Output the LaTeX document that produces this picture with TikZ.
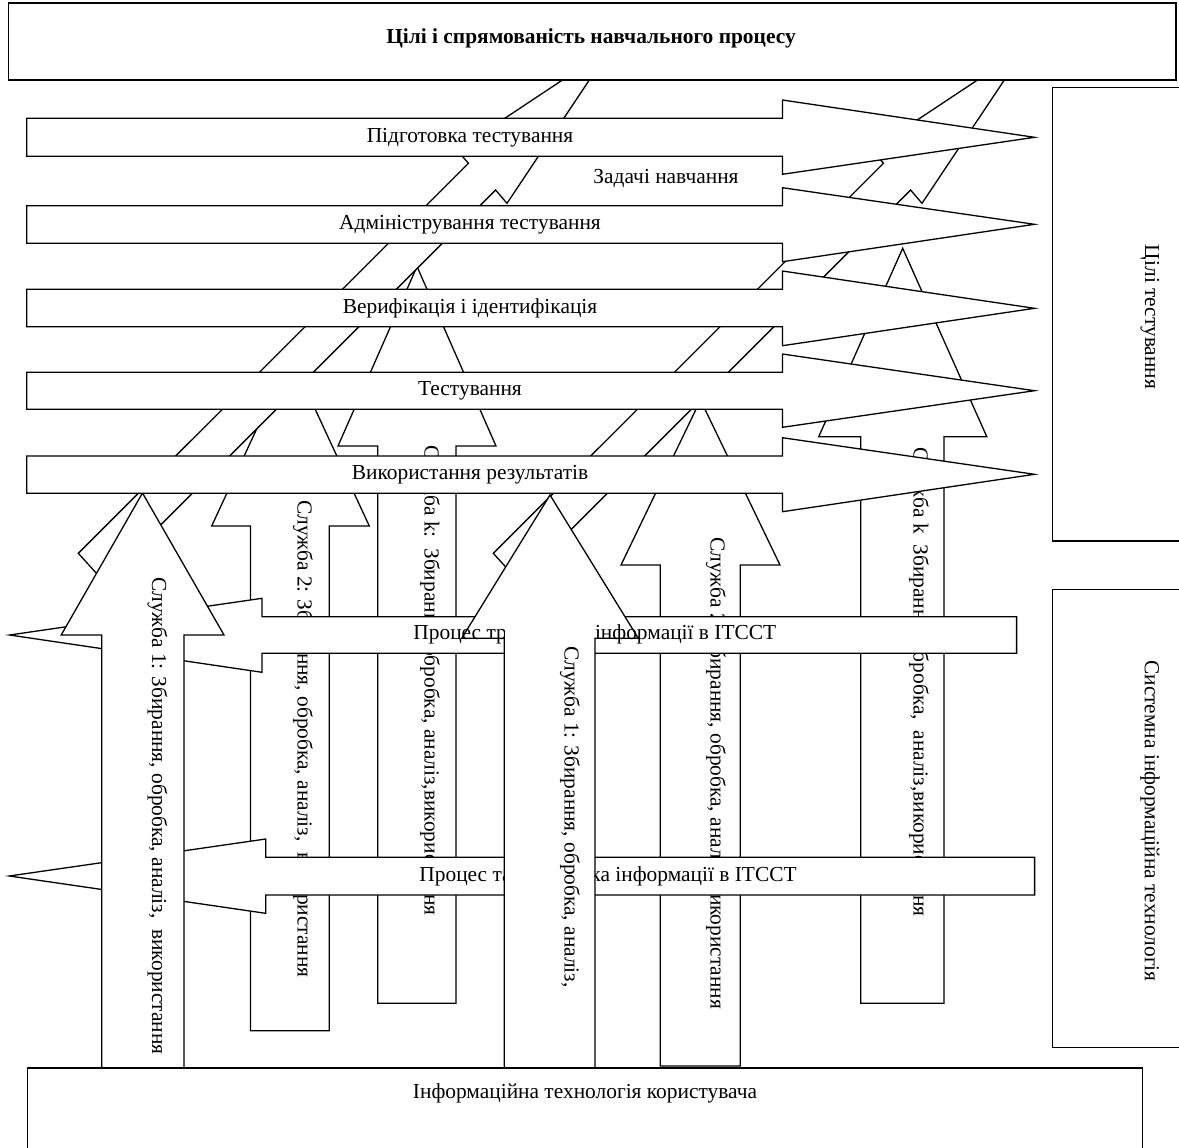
\documentclass[tikz,border=0pt]{standalone}
\usepackage{fontspec}
\setmainfont{Liberation Serif}
\newcommand{\dtxt}{\fontsize{10.7pt}{12pt}\selectfont}
\begin{document}
\begin{tikzpicture}[x=0.5pt,y=-0.5pt,
  shp/.style={draw=black,fill=white,line width=0.65pt,line join=miter,miter limit=20},
  txt/.style={font=\dtxt,inner sep=0pt},
  vtxt/.style={txt,rotate=-90,anchor=west}]
\useasboundingbox (0,0) rectangle (1179,1147);
\begin{scope}
\clip (0,0) rectangle (1179,1147);
% --- services behind (V2..V5)
\draw[shp] (250.5,1030.7) -- (250.5,526) -- (211.7,526) -- (290.5,356) -- (369.3,526) -- (329.3,526) -- (329.3,1030.7) -- cycle;
\node[vtxt] (s2a) at (303,500) {Служба 2: Збирання, обробка, аналіз,\ \ використання};
\draw[shp] (377.7,1003.3) -- (377.7,446) -- (338,446) -- (417,266.5) -- (496,446) -- (456,446) -- (456,1003.3) -- cycle;
\node[vtxt] (ska) at (430,445) {Служба k:\ \ Збирання, обробка, аналіз,використання};
\draw[shp] (660.3,1066) -- (660.3,565) -- (621,565) -- (700.5,400) -- (780,565) -- (740.2,565) -- (740.2,1066) -- cycle;
\node[vtxt] (s2b) at (716,537) {Служба 2: Збирання, обробка, аналіз, використання};
\draw[shp] (860.8,1003.3) -- (860.8,436.7) -- (818.7,436.7) -- (902.7,248.3) -- (986.8,436.7) -- (944,436.7) -- (944,1003.3) -- cycle;
\node[vtxt] (skb) at (919,447) {Служба k\ \ Збирання, обробка,\ \ аналіз,використання};
% --- lightning bolts
\draw[shp] (78.3,553.3) -- (468.5,163.3) -- (456.9,150.1) -- (610.7,48) -- (507,203.3) -- (495.6,190) -- (104,581.6) -- cycle;
\draw[shp] (493.3,553.3) -- (883.5,163.3) -- (871.9,150.1) -- (1025.7,48) -- (922,203.3) -- (910.6,190) -- (519,581.6) -- cycle;
% --- top box
\draw[shp] (8.4,3) rectangle (1176,80);
\node[txt,font=\dtxt\bfseries] (top) at (591,38) {Цілі і спрямованість навчального процесу};
% --- process arrows (left)
\draw[shp] (1016.6,616.7) -- (262,616.7) -- (262,598.3) -- (9.6,635) -- (262,672.3) -- (262,653.3) -- (1016.6,653.3) -- cycle;
\draw[shp] (1034.6,857.3) -- (265.7,857.3) -- (265.7,839) -- (9.3,876) -- (265.7,913.3) -- (265.7,895) -- (1034.6,895) -- cycle;
% --- service 1 (left)
\draw[shp] (101.7,1068) -- (101.7,635) -- (61.2,635) -- (142.5,493) -- (224,635) -- (184,635) -- (184,1068) -- cycle;
\node[vtxt] (s1a) at (157.5,577) {Служба 1: Збирання, обробка, аналіз,\ \ використання};
% --- service 1 (middle)
\draw[shp] (504.3,1068) -- (504.3,638.3) -- (461.7,638.3) -- (550,495) -- (638.3,638.3) -- (595,638.3) -- (595,1068) -- cycle;
\node[txt,anchor=west] (p1) at (413,634) {Процес транспорту інформації в ІТССТ};
\node[txt,anchor=west] (p2) at (419,876) {Процес та переробка інформації в ІТССТ};
\fill[white] (505.4,624) rectangle (593.9,1066.5);
\node[vtxt] (s1b) at (570,646) {Служба 1: Збирання, обробка, аналіз,};
% --- stage arrows (right)
\draw[shp] (26.8,118.3) -- (782.4,118.3) -- (782.4,100) -- (1034.5,137.3) -- (782.4,174.3) -- (782.4,156.2) -- (26.8,156.2) -- cycle;
\node[txt] (a1) at (470,137.3) {Підготовка тестування};
\draw[shp] (26.8,205.7) -- (782.4,205.7) -- (782.4,187.7) -- (1034.5,224.3) -- (782.4,261.7) -- (782.4,243.3) -- (26.8,243.3) -- cycle;
\node[txt] (a2) at (470,224.5) {Адміністрування тестування};
\draw[shp] (26.8,289.3) -- (782.4,289.3) -- (782.4,271) -- (1034.5,308.3) -- (782.4,345.7) -- (782.4,326.7) -- (26.8,326.7) -- cycle;
\node[txt] (a3) at (470,308) {Верифікація і ідентифікація};
\draw[shp] (26.8,372.3) -- (782.4,372.3) -- (782.4,354) -- (1034.5,390.7) -- (782.4,427.3) -- (782.4,409.3) -- (26.8,409.3) -- cycle;
\node[txt] (a4) at (470,390.8) {Тестування};
\draw[shp] (26.8,456) -- (782.4,456) -- (782.4,437.7) -- (1034.5,474.3) -- (782.4,511.7) -- (782.4,493.3) -- (26.8,493.3) -- cycle;
\node[txt] (a5) at (470,474.7) {Використання результатів};
\node[txt] (zad) at (666,178) {Задачі навчання};
% --- right boxes
\draw[shp] (1052.4,87.3) rectangle (1200,541);
\node[txt,rotate=-90] (goal) at (1150,317) {Цілі тестування};
\draw[shp] (1052.4,589.3) rectangle (1200,1047.7);
\node[txt,rotate=-90] (sys) at (1150,821) {Системна інформаційна технологія};
% --- bottom box
\draw[shp] (27.3,1068) rectangle (1142.3,1200);
\node[txt] (user) at (585,1093) {Інформаційна технологія користувача};
\end{scope}
\end{tikzpicture}
\end{document}
